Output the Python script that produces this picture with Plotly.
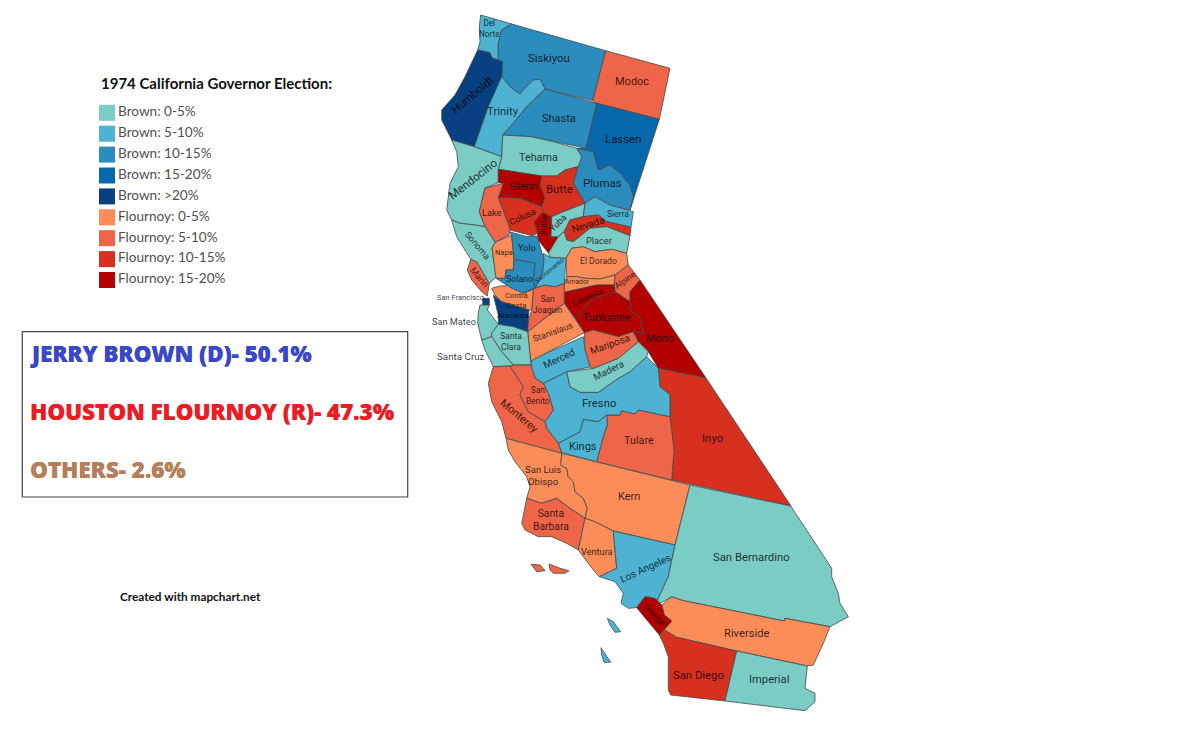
import plotly.graph_objects as go

# Election bins and their colours
legend_labels = ["Brown: 0-5%", "Brown: 5-10%", "Brown: 10-15%", "Brown: 15-20%", "Brown: >20%",
                 "Flournoy: 0-5%", "Flournoy: 5-10%", "Flournoy: 10-15%", "Flournoy: 15-20%"]
legend_colors = ["#7bccc4", "#4eb3d3", "#2b8cbe", "#0868ac", "#084081",
                 "#fc8d59", "#ef6548", "#d7301f", "#b30000"]
result_labels = ["JERRY BROWN (D)- 50.1%", "HOUSTON FLOURNOY (R)- 47.3%", "OTHERS- 2.6%"]
result_colors = ["#3a48c8", "#ed1c24", "#b57f5a"]

del_norte = [(480.7,15),(511.7,24),(501.7,30),(498.3,43.3),(498.3,60),(491.7,57.7),(490,52.7),(477.7,50),(480,41.7),(479.3,26.7)]
siskiyou = [(511.7,24),(605.7,50.7),(592.7,100.7),(545,89),(540,79.3),(533.3,80),(525,88.3),(520,94),(511.7,88.3),(501.7,76.7),(502.7,61.7),(498.3,60),(498.3,43.3),(501.7,30)]
modoc = [(605.7,50.7),(670,68.3),(659.3,119.3),(596.7,103.3),(592.7,100.7)]
humboldt = [(477.7,50),(490,52.7),(491.7,57.7),(502.7,61.7),(501.7,76.7),(488.3,106.7),(474.3,146.7),(451.7,140),(441.7,120),(441.7,110),(455,95),(465,76.7)]
trinity = [(501.7,76.7),(511.7,88.3),(520,94),(525,88.3),(533.3,80),(540,79.3),(545,89),(526.7,106.7),(513.3,123.3),(502.7,135),(501.7,156.7),(474.3,146.7),(488.3,106.7)]
shasta = [(545,89),(596.7,103.3),(586,148.3),(553.3,141.7),(531.7,136.7),(502.7,135),(513.3,123.3),(526.7,106.7)]
lassen = [(596.7,103.3),(659.3,119.3),(630,210),(633.3,196.7),(630,185),(620,173.3),(610,165),(598.3,170),(593.3,151.7),(576.7,148.3),(586,148.3)]
plumas = [(576.7,148.3),(593.3,151.7),(598.3,170),(610,165),(620,173.3),(630,185),(633.3,196.7),(630,210),(610,205),(595,196.7),(585,203.3),(573.3,183.3),(578.3,166.7),(581.7,156.7)]
tehama = [(502.7,135),(531.7,136.7),(553.3,141.7),(576.7,148.3),(581.7,156.7),(578.3,166.7),(565,170),(556.7,176),(541.7,176),(498.3,169.3),(501.7,156.7)]
mendocino = [(451.7,140),(474.3,146.7),(501.7,156.7),(498.3,169.3),(498.3,182.7),(485,188),(479.3,211.7),(485,226.7),(475,225),(460,223.3),(451.7,220),(446.7,210),(450,183.3),(458.3,166.7),(456.7,151.7)]
glenn = [(498.3,169.3),(541.7,176),(545,198),(541.7,206.7),(520,198.3),(498.3,197.3),(503.3,183.3),(498.3,182.7)]
butte = [(541.7,176),(556.7,176),(565,170),(577.7,166.7),(573.3,183.3),(585,203.3),(563.3,211.7),(551.7,216.7),(545,215),(541.7,206.7),(545,198),(540,185)]
lake = [(485,188),(503.3,183.3),(498.3,197.3),(510,228),(509,235),(495,242.3),(485,226.7),(479.3,211.7)]
colusa = [(498.3,197.3),(520,198.3),(541.7,206.7),(545,215),(534.3,221.7),(537,233),(533,236),(510,230),(510,228)]
sutter = [(541.7,213.3),(551.7,216.7),(551,236.7),(558.3,236.7),(548.3,253),(538.3,240),(536.7,230),(534.3,221.7)]
yuba = [(551.7,216.7),(563.3,211.7),(585,203.3),(583.3,216.7),(570,220),(564.3,231.7),(558.3,236.7),(551,236.7)]
sierra = [(585,203.3),(595,196.7),(610,205),(633.3,211.7),(631,227.3),(606.7,221.7),(598.3,215),(583.3,216.7)]
nevada = [(570,220),(583.3,216.7),(598.3,215),(606.7,221.7),(631,227.3),(630,235.7),(606.7,226.7),(590,228.3),(573.3,241.7),(566.7,240),(564.3,231.7)]
placer = [(558.3,236.7),(564.3,231.7),(566.7,240),(573.3,241.7),(590,228.3),(606.7,226.7),(630,235.7),(626.7,253.3),(611.7,249.3),(595,251.7),(583.3,246.7),(571.7,248.3),(566,258.3),(550,257.3),(548.3,253.3)]
el_dorado = [(571.7,248.3),(583.3,246.7),(595,251.7),(611.7,249.3),(626.7,253.3),(628.3,265),(615,275),(600,279),(585,278.3),(576.7,276.7),(566.7,276.7),(566,258.3)]
amador = [(566.7,276.7),(576.7,276.7),(585,278.3),(600,279),(615,275),(614.3,285),(596.7,285),(564.3,292.3),(564.3,283.3)]
alpine = [(628.3,265),(640,280),(630,291.7),(630,301.7),(615,291.7),(614.3,285),(615,275)]
calaveras = [(564.3,292.3),(596.7,285),(614.3,285),(615,291.7),(595,298.3),(583.3,308.3),(575,318.3),(564.3,303.3)]
tuolumne = [(615,291.7),(630,301.7),(630,310),(640,318.3),(643.3,333.3),(633.3,331.7),(618.3,336.7),(593.3,330),(584.3,332.7),(575,318.3),(583.3,308.3),(595,298.3)]
mono = [(640,280),(706,378),(658.3,368.3),(648.3,351.7),(638.3,341.7),(633.3,331.7),(643.3,333.3),(640,318.3),(630,310),(630,291.7)]
inyo = [(658.3,368.3),(706,378),(791,506),(671.7,480),(674,450),(670,416.7),(670,395),(660,386.7)]
tulare = [(606.7,415),(620,415),(621.7,410.7),(635,414),(638.3,410),(670,416.7),(674,450),(671.7,480),(596.7,461.7),(603.3,436.7),(607.3,425)]
kings = [(583.3,419.3),(598.3,421.7),(606.7,415),(607.3,425),(603.3,436.7),(596.7,461.7),(561.7,452.7),(558.3,443.3),(580,431.7)]
fresno = [(543.3,383.3),(566.7,371.7),(570,386.7),(580,392.3),(598.3,392.3),(618.3,378.3),(630,371.7),(646.7,356.7),(658.3,368.3),(660,386.7),(670,395),(670,416.7),(638.3,410),(635,414),(621.7,410.7),(620,415),(606.7,415),(598.3,421.7),(583.3,419.3),(580,431.7),(558.3,443.3),(546.7,428.3),(545,421.7),(553.3,410),(548.3,393.3)]
madera = [(566.7,371.7),(593.3,368.3),(618.3,358.3),(638.3,341.7),(648.3,351.7),(646.7,356.7),(630,371.7),(618.3,378.3),(598.3,392.3),(580,392.3),(570,386.7)]
mariposa = [(584.3,332.7),(593.3,330),(618.3,336.7),(633.3,331.7),(638.3,341.7),(618.3,358.3),(593.3,368.3),(590,367),(585,350)]
merced = [(531,361),(535,358.3),(583.3,336.7),(585,350),(590,367),(566.7,371.7),(543.3,383.3),(535,378.3),(531,365)]
stanislaus = [(527.7,331.7),(561.7,305),(564.3,303.3),(584.3,332.7),(535,358.3),(531,361),(530,355)]
san_joaquin = [(533.3,288.3),(545,285),(555,286.7),(564.3,283.3),(564.3,303.3),(561.7,305),(527.7,331.7),(526.7,326.7),(531.7,310)]
contra_costa = [(491.7,288.3),(500,286),(521.7,285),(533.3,288.3),(531.7,310),(529,310),(516.7,306.7),(501.7,301.7),(495,295)]
alameda = [(493.3,295),(501.7,301.7),(516.7,306.7),(529,310),(527.7,331.7),(513.3,326.7),(498.3,324.3),(498.3,315)]
san_francisco = [(482.7,298.3),(489.3,298.3),(489.3,305),(482.7,305)]
san_mateo = [(480,305),(489.3,305),(487.3,310),(498.3,324.3),(491.7,333.3),(491.7,336.7),(481.7,340),(477.7,323.3),(478.3,313.3)]
santa_clara = [(498.3,324.3),(513.3,326.7),(527.7,331.7),(530,355),(531,361),(531,365),(513.3,365),(501.7,351.7),(491.7,336.7),(491.7,333.3)]
santa_cruz = [(481.7,340),(491.7,336.7),(501.7,351.7),(513.3,365),(510,366),(493.3,366.7),(485,350)]
monterey = [(493.3,366.7),(510,366),(523.3,386.7),(520,395),(528.3,411.7),(545,421.7),(546.7,428.3),(558.3,443.3),(561.7,453.3),(506,438.3),(501.7,421.7),(491.7,401.7),(488.3,383.3),(490,378.3)]
san_benito = [(510,366),(513.3,365),(531,365),(535,378.3),(543.3,383.3),(548.3,393.3),(553.3,410),(545,421.7),(528.3,411.7),(520,395),(523.3,386.7)]
san_luis_obispo = [(506,438.3),(561.7,453.3),(560.7,465),(566.7,468.3),(568.3,476.7),(573.3,481.7),(575,491.7),(583.3,498.3),(587.3,508.3),(585,518.3),(570,508.3),(556.7,498.3),(541.7,503.3),(526.7,498.3),(530,486.7),(526.7,476.7),(515,461.7),(508.3,450)]
kern = [(561.7,453.3),(690,485),(675,545),(613.3,531),(595,521.7),(585,518.3),(587.3,508.3),(583.3,498.3),(575,491.7),(573.3,481.7),(568.3,476.7),(566.7,468.3),(560.7,465)]
santa_barbara = [(526.7,498.3),(541.7,503.3),(556.7,498.3),(570,508.3),(585,518.3),(578.3,550),(566.7,543.3),(551.7,536.7),(538.3,536.7),(525,530),(521.7,523.3)]
ventura = [(585,518.3),(595,521.7),(613.3,531),(616.7,568.3),(599.3,576.7),(593.3,570),(583.3,556.7),(578.3,550)]
los_angeles = [(613.3,531),(675,545),(668.3,576.7),(656.7,601.7),(649.3,596.7),(645,596.7),(636.7,607.7),(628.3,608.3),(621,603.3),(623.3,593.3),(615,581.7),(599.3,576.7),(616.7,568.3)]
san_bernardino = [(690,485),(790.7,506),(831.7,568.3),(831.7,576.7),(838.3,593.3),(840,603.3),(848.3,616.7),(830,626.7),(785,618.3),(784.3,621),(710,606),(683.3,600.7),(671.7,596.7),(660,603.3),(656.7,601.7),(668.3,576.7),(675,545)]
riverside = [(671.7,596.7),(683.3,600.7),(710,606),(784.3,621),(785,618.3),(830,626.7),(823.3,643.3),(813.3,665),(807.3,666),(736.7,651),(676.7,637.3),(664.3,630),(671.7,621),(664.3,615),(661.7,605)]
orange = [(645,596.7),(655,598.3),(661.7,605),(664.3,615),(671.7,621),(659.3,635),(636.7,607.7)]
san_diego = [(659.3,635),(664.3,630),(676.7,637.3),(736.7,651),(725,701),(670.7,695),(668.3,690),(668.3,656.7),(663.3,643.3)]
imperial = [(736.7,651),(807.3,666),(805,688.3),(815,693.3),(815,701.7),(805,710.7),(725,701)]
marin = [(470.7,259.3),(476.7,261.7),(489.3,283.3),(487.3,296),(481.7,291.7),(471.7,280),(467.3,270)]
sonoma = [(451.7,220),(460,223.3),(475,225),(485,226.7),(495,242.3),(492,248),(493.3,258.3),(496.7,276.7),(489.3,283.3),(476.7,261.7),(470.7,259.3),(456.7,236.7)]
napa = [(495,242.3),(511.7,235),(514,259.3),(513.3,270),(506,270),(505,278.3),(496,278.3),(493.3,258.3),(492,248)]
yolo = [(509.3,231.7),(526.7,236.7),(537,236),(538.3,240),(544,260),(542.7,273.3),(535,288.3),(533.3,280),(535,263.3),(514,259.3),(511.7,235)]
solano = [(514,259.3),(535,263.3),(533.3,280),(535,288.3),(523.3,293.3),(511.7,288.3),(496,278.3),(505,278.3),(506,270),(513.3,270)]
sacramento = [(543.3,253.3),(550,257.3),(566,258.3),(564.3,283.3),(555,286.7),(545,285),(533.3,288.3),(523.3,293.3),(535,288.3),(542.7,273.3),(544,260)]
santa_rosa_island = [(531,564.3),(540,565),(545,570.7),(536.7,571.7)]
santa_cruz_island = [(549,564),(560,568.3),(569,570.7),(565,573.3),(553.3,573.3),(550,570)]
catalina_island = [(607.3,618.3),(613.3,621.7),(620.7,631.7),(615,632.3),(610,625)]
san_clemente_island = [(601,647.7),(605,653.3),(610.7,662.3),(604,662.3),(601.7,655)]

outlines = [del_norte, siskiyou, modoc, humboldt, trinity, shasta, lassen, plumas, tehama, mendocino, glenn, butte,
            lake, colusa, sutter, yuba, sierra, nevada, placer, el_dorado, amador, alpine, calaveras, tuolumne, mono,
            inyo, tulare, kings, fresno, madera, mariposa, merced, stanislaus, san_joaquin, contra_costa, alameda,
            san_francisco, san_mateo, santa_clara, santa_cruz, monterey, san_benito, san_luis_obispo, kern,
            santa_barbara, ventura, los_angeles, san_bernardino, riverside, orange, san_diego, imperial, marin,
            sonoma, napa, yolo, solano, sacramento, santa_rosa_island, santa_cruz_island, catalina_island,
            san_clemente_island]
county_names = ["Del Norte", "Siskiyou", "Modoc", "Humboldt", "Trinity", "Shasta", "Lassen", "Plumas", "Tehama", "Mendocino", "Glenn", "Butte",
                "Lake", "Colusa", "Sutter", "Yuba", "Sierra", "Nevada", "Placer", "El Dorado", "Amador", "Alpine", "Calaveras", "Tuolumne", "Mono",
                "Inyo", "Tulare", "Kings", "Fresno", "Madera", "Mariposa", "Merced", "Stanislaus", "San Joaquin", "Contra Costa", "Alameda",
                "San Francisco", "San Mateo", "Santa Clara", "Santa Cruz", "Monterey", "San Benito", "San Luis Obispo", "Kern",
                "Santa Barbara", "Ventura", "Los Angeles", "San Bernardino", "Riverside", "Orange", "San Diego", "Imperial", "Marin",
                "Sonoma", "Napa", "Yolo", "Solano", "Sacramento", "Santa Barbara", "Santa Barbara", "Los Angeles", "Los Angeles"]
# Index into legend_labels for every outline
county_bins = [1, 2, 6, 4, 1, 2, 3, 2, 0, 0, 8, 7,
               6, 7, 8, 0, 1, 7, 0, 5, 5, 6, 8, 8, 8,
               7, 6, 1, 1, 0, 6, 1, 5, 6, 5, 4,
               4, 0, 0, 0, 6, 6, 5, 5,
               6, 5, 1, 0, 5, 8, 7, 0, 6,
               0, 5, 2, 2, 1, 6, 6, 1, 1]

# Map labels
label_texts = ["Del<br>Norte", "Siskiyou", "Modoc", "Humboldt", "Trinity", "Shasta", "Lassen", "Tehama", "Mendocino", "Glenn", "Butte", "Plumas",
               "Lake", "Colusa", "Sutter", "Yuba", "Sierra", "Nevada", "Placer", "Sonoma", "Napa", "Yolo", "Solano", "Sacramento",
               "El Dorado", "Amador", "Alpine", "Marin", "Contra<br>Costa", "San<br>Joaquin", "Calaveras", "Tuolumne", "Mono", "Alameda",
               "Stanislaus", "Mariposa", "Merced", "Madera", "Fresno", "Santa<br>Clara", "San<br>Benito", "Monterey", "Kings", "Tulare", "Inyo",
               "San Luis<br>Obispo", "Kern", "Santa<br>Barbara", "Ventura", "Los Angeles", "San Bernardino", "Riverside", "Orange", "San Diego", "Imperial",
               "San Francisco", "San Mateo", "Santa Cruz"]
label_x = [489, 549, 632, 472, 503, 559, 623, 538, 473, 523, 559, 602,
           492, 522, 543.5, 558, 618, 588, 599, 477, 504, 527, 519, 549,
           598, 577, 625, 479, 516, 547, 587, 607, 660, 513,
           553, 609, 559, 608, 599, 511, 538, 519, 583, 639, 712,
           543, 629, 551, 597, 645, 751, 746, 655, 698, 769,
           460, 454, 461]
label_y = [28, 58, 81, 95, 111, 118, 139, 157, 179, 186, 189, 183,
           212, 216, 224, 223, 214, 224, 240, 245, 252, 248, 279, 271,
           261, 282, 280, 277, 300, 304, 297, 317, 338, 315,
           332, 344, 358, 370, 403, 341, 395, 415, 446, 440, 438,
           475, 496, 520, 551, 568, 557, 633, 615, 675, 679,
           297, 321, 356]
label_sizes = [8.2, 11.3, 11, 11.5, 11.4, 11, 11.4, 10.8, 11.6, 10.7, 11.3, 11.5,
               9.2, 9.2, 8.5, 9, 8.5, 10, 9.2, 9, 7.5, 9, 8.8, 6.5,
               8.6, 6.8, 8.5, 9, 7.7, 8.2, 7.5, 10.8, 11, 8,
               9, 9.9, 10, 9.7, 11.3, 8.6, 8.3, 10.8, 11, 10.8, 11.4,
               9.6, 11, 10.3, 9.2, 10, 11.3, 11.2, 8.5, 11.3, 11.2,
               7.5, 9.2, 9.8]
label_angles = [0, 0, 0, -40, 0, 0, 0, 0, -38, 0, 0, 0,
                0, -25, -85, -45, 0, -17, 0, 50, 0, 0, 0, -40,
                0, 0, -35, 50, 0, 0, -25, 0, 0, 0,
                -20, -20, -25, -27, 0, 0, 0, 40, 0, 0, 0,
                0, 0, 0, 0, -25, 0, 0, 45, 0, 0,
                0, 0, 0]

fig = go.Figure()

# Dibujar los condados
for name, outline, b in zip(county_names, outlines, county_bins):
    xs = [p[0] for p in outline] + [outline[0][0]]
    ys = [p[1] for p in outline] + [outline[0][1]]
    fig.add_trace(go.Scatter(x=xs, y=ys, mode="lines", fill="toself", fillcolor=legend_colors[b],
                             line=dict(color="#3f4a4a", width=0.8), name=name,
                             text=name + " - " + legend_labels[b], hoverinfo="text", showlegend=False))

# Legend swatches, spaced evenly
legend_y = [112.8 + 20.9 * i for i in range(len(legend_labels))]
fig.add_trace(go.Scatter(x=[107] * len(legend_labels), y=legend_y, mode="markers+text",
                         marker=dict(symbol="square", size=16, color=legend_colors, line=dict(width=0)),
                         text=legend_labels, textposition="middle right",
                         textfont=dict(family="Lato", size=13.6, color="#505050"),
                         hoverinfo="text", showlegend=False))

annotations = []
for t, x, y, s, a in zip(label_texts, label_x, label_y, label_sizes, label_angles):
    annotations.append(dict(x=x, y=y, text=t, textangle=a, showarrow=False, xref="x", yref="y",
                            font=dict(family="Roboto", size=s, color="rgba(0,0,0,0.78)")))

annotations.append(dict(x=99, y=83, text="<b>1974 California Governor Election:</b>", xanchor="left", showarrow=False,
                        xref="x", yref="y", font=dict(family="Lato", size=15, color="#111111")))
for t, c, y in zip(result_labels, result_colors, [353, 411, 469]):
    annotations.append(dict(x=28, y=y, text=t, xanchor="left", showarrow=False, xref="x", yref="y",
                            font=dict(family="Open Sans", size=22.4, color=c, weight=800,
                                      shadow="0.3px 0 0 " + c)))
annotations.append(dict(x=118, y=596, text="<b>Created with mapchart.net</b>", xanchor="left", showarrow=False,
                        xref="x", yref="y", font=dict(family="Lato", size=11.8, color="#111111")))

fig.update_layout(
    width=1200, height=744, margin=dict(l=0, r=0, t=0, b=0),
    paper_bgcolor="white", plot_bgcolor="white", showlegend=False,
    xaxis=dict(range=[0, 1200], visible=False, fixedrange=True),
    yaxis=dict(range=[744, 0], visible=False, fixedrange=True),
    annotations=annotations,
    shapes=[dict(type="rect", x0=22.3, x1=407.7, y0=331.7, y1=497, xref="x", yref="y",
                 line=dict(color="#444444", width=1.2))],
)

fig.write_html("out.html", post_script="document.body.style.margin='0';", config=dict(displayModeBar=False))
